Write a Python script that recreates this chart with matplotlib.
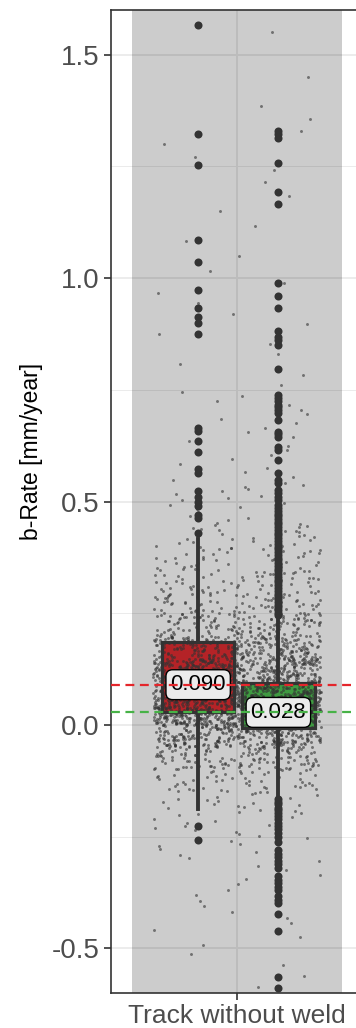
import numpy as np
import matplotlib
matplotlib.use("Agg")
import matplotlib.pyplot as plt

plt.rcParams["font.family"] = ["Liberation Sans", "DejaVu Sans"]

# ---- data ----
category = "Track without weld"
y_ticks = [-0.5, 0.0, 0.5, 1.0, 1.5]
y_tick_labels = ["-0.5", "0.0", "0.5", "1.0", "1.5"]
y_minor = [-0.25, 0.25, 0.75, 1.25]

group_pos = [0.815, 1.197]
group_colors = ["#b42327", "#3f9a41"]
line_colors = ["#e4262b", "#47b247"]

# box statistics (q1, median, q3, whiskers)
red_stats = dict(q1=0.029, med=0.090, q3=0.186, whislo=-0.188, whishi=0.417)
green_stats = dict(q1=-0.008, med=0.028, q3=0.094, whislo=-0.160, whishi=0.242)

red_outliers = [1.567, 1.323, 1.254, 1.086, 1.037, 0.974, 0.934, 0.912, 0.899,
                0.874, 0.665, 0.658, 0.635, 0.610, 0.572, 0.564, 0.524, 0.509,
                0.500, 0.490, 0.470, 0.462, 0.430, -0.226, -0.257]

green_outliers = [1.330, 1.322, 1.314, 1.257, 1.193, 1.166, 0.990, 0.960, 0.934,
                  0.882, 0.869, 0.861, 0.850, 0.797, 0.738, 0.731, 0.724, 0.717,
                  0.711, 0.704, 0.698, 0.682, 0.656, 0.650, 0.644, 0.622, 0.615,
                  0.593, 0.564, 0.548, 0.541, 0.526, 0.519, 0.511, 0.503, 0.492,
                  0.486, 0.479, 0.473, 0.468, 0.461, 0.455, 0.449, 0.442, 0.437,
                  0.430, 0.424, 0.418, 0.411, 0.405, 0.399, 0.393, 0.386, 0.380,
                  0.374, 0.369, 0.362, 0.356, 0.350, 0.344, 0.338, 0.331, 0.325,
                  0.319, 0.313, 0.306, 0.300, 0.294, 0.288, 0.282, 0.275, 0.269,
                  0.263, 0.257, 0.251, 0.246, -0.166, -0.172, -0.178, -0.185,
                  -0.191, -0.197, -0.204, -0.210, -0.219, -0.226, -0.234, -0.242,
                  -0.250, -0.263, -0.280, -0.288, -0.296, -0.304, -0.312, -0.320,
                  -0.339, -0.347, -0.354, -0.362, -0.369, -0.384, -0.392, -0.399,
                  -0.424, -0.461, -0.565, -0.588]

# jittered raw points, as a histogram of the cloud (bin edges, counts per bin)
cloud_edges = [-0.60, -0.50, -0.45, -0.40, -0.35, -0.30, -0.25, -0.20, -0.15,
               -0.10, -0.05, 0.00, 0.05, 0.10, 0.15, 0.20, 0.25, 0.30, 0.35,
               0.40, 0.45, 0.55, 0.75, 1.00, 1.20, 1.40, 1.60]
cloud_counts = [4, 3, 4, 4, 5, 8, 12, 22, 50, 120, 280, 480, 480, 380, 240, 130,
                80, 55, 40, 25, 20, 20, 11, 6, 7, 2]

# values spread evenly inside each bin
ys = []
for lo, hi, n in zip(cloud_edges[:-1], cloud_edges[1:], cloud_counts):
    ys.extend(lo + (np.arange(n) + 0.5) / n * (hi - lo))
ys = np.array(ys)
# horizontal jitter, like geom_jitter(width = 0.4)
rng = np.random.default_rng(7)
xs = 1.0 + rng.uniform(-0.4, 0.4, len(ys))

fig = plt.figure(figsize=(3.56, 10.28), dpi=100)
ax = fig.add_axes([111 / 356, 35 / 1028, 252 / 356, 983 / 1028])

ax.set_axisbelow(True)
ax.axvspan(0.5, 1.5, color="black", alpha=0.2, lw=0, zorder=1)

for stats, outl, pos, col in zip([red_stats, green_stats], [red_outliers, green_outliers],
                                 group_pos, group_colors):
    s = dict(stats)
    s["fliers"] = outl
    ax.bxp([s], positions=[pos], widths=0.345, patch_artist=True, showcaps=False,
           manage_ticks=False,
           boxprops=dict(facecolor=col, edgecolor="#333333", linewidth=2.3),
           whiskerprops=dict(color="#333333", linewidth=2.8),
           medianprops=dict(color="#333333", linewidth=2.3),
           flierprops=dict(marker="o", markersize=5.8, markerfacecolor="#333333",
                           markeredgecolor="none"),
           zorder=2)

ax.scatter(xs, ys, s=4.5, c="#333333", alpha=0.6, linewidths=0, zorder=3)

for stats, pos in zip([red_stats, green_stats], group_pos):
    ax.text(pos, stats["med"], f"{stats['med']:.3f}", ha="center", va="center",
            fontsize=16, color="black", zorder=5,
            bbox=dict(boxstyle="round,pad=0.2,rounding_size=0.3", fc="#ebebeb",
                      ec="black", lw=1))

for stats, col in zip([red_stats, green_stats], line_colors):
    ax.axhline(stats["med"], color=col, lw=1.6, ls=(0, (4, 2.5)), zorder=6)

ax.set_xlim(0.4, 1.6)
ax.set_ylim(-0.6, 1.6)
ax.set_yticks(y_ticks)
ax.set_yticklabels(y_tick_labels)
ax.set_yticks(y_minor, minor=True)
ax.set_xticks([1.0])
ax.set_xticklabels([category])
ax.grid(which="major", color="#ebebeb", lw=1.3)
ax.grid(which="minor", axis="y", color="#ebebeb", lw=0.7)
ax.tick_params(axis="y", which="minor", length=0)

for side in ["left", "bottom", "top", "right"]:
    ax.spines[side].set_color("#333333")
    ax.spines[side].set_linewidth(1.2)

ax.tick_params(axis="both", which="major", length=5, width=1.2, color="#333333",
               labelcolor="#4d4d4d", pad=3)
ax.tick_params(axis="y", labelsize=20)
ax.tick_params(axis="x", labelsize=19)

ax.set_ylabel("b-Rate [mm/year]", fontsize=16.5, color="black")
ax.yaxis.set_label_coords(-0.27, 0.551)

fig.savefig("out.png", dpi=100)
